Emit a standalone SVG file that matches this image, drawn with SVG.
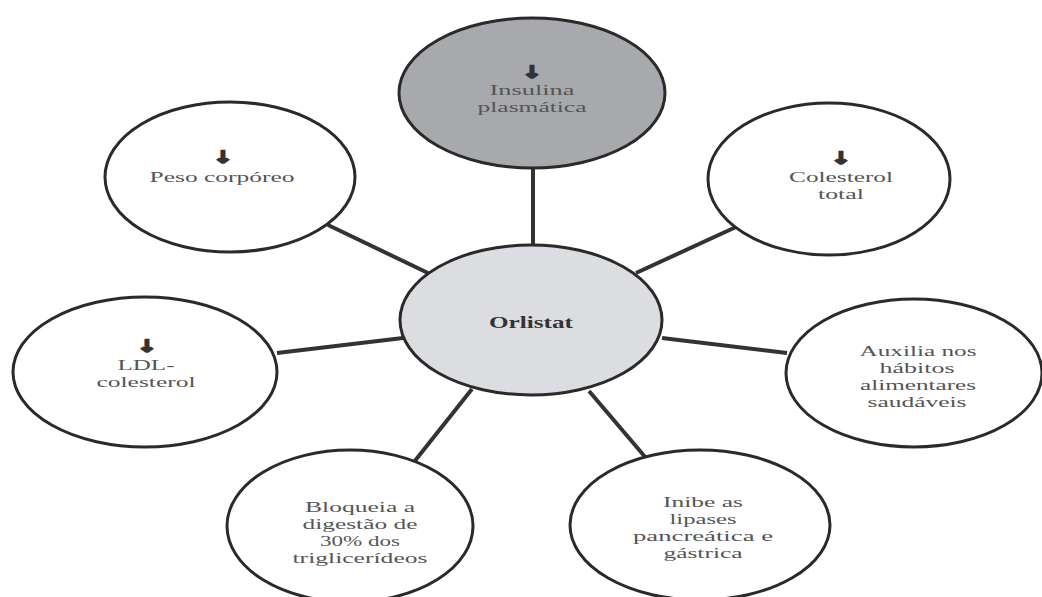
<svg xmlns="http://www.w3.org/2000/svg" width="1042" height="597" viewBox="0 0 1042 597">
<style>
.node{stroke:#2a2a2a;stroke-width:3;fill:#ffffff}
.top{fill:#a8a9ad}
.center{fill:#dcdde0}
.conn line{stroke:#333333;stroke-width:4}
.t{font-family:"Liberation Serif","Times New Roman",serif;font-size:15px;fill:#555555;text-anchor:middle}
.b{font-weight:bold;fill:#333333;font-size:16px}
.arr{font-family:"DejaVu Sans",sans-serif;font-size:17px;font-weight:bold;fill:#333333;stroke:#333333;stroke-width:1.6;text-anchor:middle}
</style>
<rect width="1042" height="597" fill="#ffffff"/>
<g id="connectors" class="conn">
<line x1="533" y1="168" x2="533" y2="247"/>
<line x1="328" y1="225" x2="428" y2="273"/>
<line x1="277" y1="353" x2="403" y2="338"/>
<line x1="472" y1="389" x2="414" y2="462"/>
<line x1="636" y1="273" x2="736" y2="227"/>
<line x1="662" y1="338" x2="787" y2="353"/>
<line x1="589" y1="391" x2="646" y2="458"/>
</g>
<g id="insulina">
<ellipse class="node top" cx="532" cy="93" rx="133" ry="75"/>
<text class="arr" x="532" y="78" textLength="20" lengthAdjust="spacingAndGlyphs">↓</text>
<text class="t" x="532" y="95" textLength="85" lengthAdjust="spacingAndGlyphs">Insulina</text>
<text class="t" x="532" y="112" textLength="109" lengthAdjust="spacingAndGlyphs">plasmática</text>
</g>
<g id="peso">
<ellipse class="node" cx="230" cy="177" rx="125" ry="75"/>
<text class="arr" x="223" y="163" textLength="20" lengthAdjust="spacingAndGlyphs">↓</text>
<text class="t" x="222" y="182" textLength="145" lengthAdjust="spacingAndGlyphs">Peso corpóreo</text>
</g>
<g id="colesterol">
<ellipse class="node" cx="829" cy="179" rx="121" ry="76"/>
<text class="arr" x="841" y="164" textLength="20" lengthAdjust="spacingAndGlyphs">↓</text>
<text class="t" x="841" y="182" textLength="104" lengthAdjust="spacingAndGlyphs">Colesterol</text>
<text class="t" x="841" y="199" textLength="46" lengthAdjust="spacingAndGlyphs">total</text>
</g>
<g id="orlistat">
<ellipse class="node center" cx="531" cy="320" rx="131" ry="75"/>
<text class="t b" x="531" y="328" textLength="84" lengthAdjust="spacingAndGlyphs">Orlistat</text>
</g>
<g id="ldl">
<ellipse class="node" cx="145" cy="372" rx="132" ry="75"/>
<text class="arr" x="147" y="352" textLength="20" lengthAdjust="spacingAndGlyphs">↓</text>
<text class="t" x="146" y="370" textLength="57" lengthAdjust="spacingAndGlyphs">LDL-</text>
<text class="t" x="146" y="387" textLength="99" lengthAdjust="spacingAndGlyphs">colesterol</text>
</g>
<g id="auxilia">
<ellipse class="node" cx="914" cy="373" rx="128" ry="74"/>
<text class="t" x="918" y="356" textLength="117" lengthAdjust="spacingAndGlyphs">Auxilia nos</text>
<text class="t" x="917" y="373" textLength="75" lengthAdjust="spacingAndGlyphs">hábitos</text>
<text class="t" x="918" y="390" textLength="116" lengthAdjust="spacingAndGlyphs">alimentares</text>
<text class="t" x="917" y="407" textLength="99" lengthAdjust="spacingAndGlyphs">saudáveis</text>
</g>
<g id="bloqueia">
<ellipse class="node" cx="350" cy="526" rx="123" ry="76"/>
<text class="t" x="360" y="512" textLength="110" lengthAdjust="spacingAndGlyphs">Bloqueia a</text>
<text class="t" x="360" y="529" textLength="115" lengthAdjust="spacingAndGlyphs">digestão de</text>
<text class="t" x="360" y="546" textLength="80" lengthAdjust="spacingAndGlyphs">30% dos</text>
<text class="t" x="360" y="563" textLength="135" lengthAdjust="spacingAndGlyphs">triglicerídeos</text>
</g>
<g id="inibe">
<ellipse class="node" cx="700" cy="525" rx="130" ry="75"/>
<text class="t" x="703" y="507" textLength="80" lengthAdjust="spacingAndGlyphs">Inibe as</text>
<text class="t" x="703" y="524" textLength="67" lengthAdjust="spacingAndGlyphs">lipases</text>
<text class="t" x="703" y="541" textLength="140" lengthAdjust="spacingAndGlyphs">pancreática e</text>
<text class="t" x="703" y="558" textLength="79" lengthAdjust="spacingAndGlyphs">gástrica</text>
</g>
</svg>
